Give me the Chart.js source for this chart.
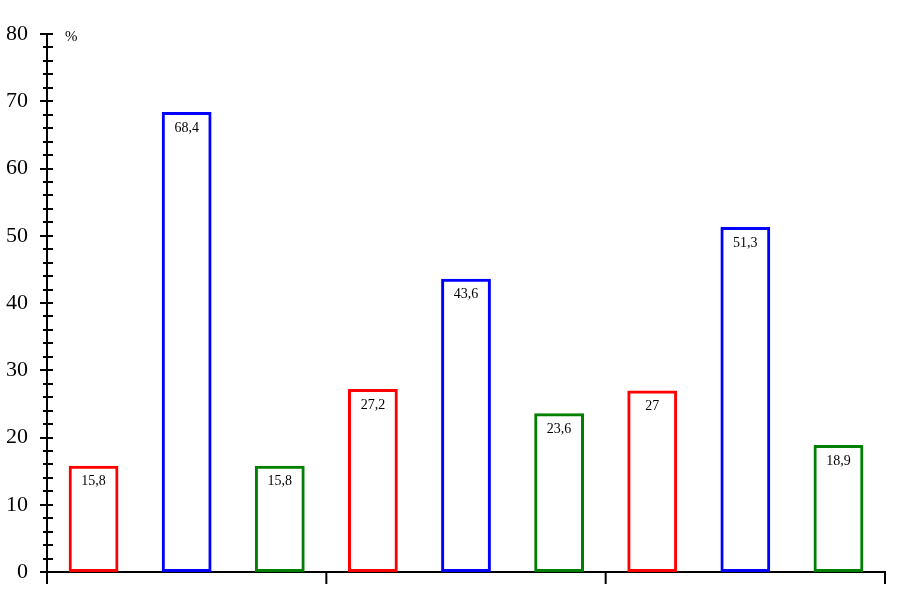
<!DOCTYPE html>
<html>
<head>
<meta charset="utf-8">
<script src="https://cdn.jsdelivr.net/npm/chart.js@4.4.1/dist/chart.umd.min.js"></script>
<style>
  html, body { margin: 0; padding: 0; background: #fff; }
  #wrap { width: 904px; height: 606px; }
</style>
</head>
<body>
<div id="wrap"><canvas id="chart"></canvas></div>
<script>
// three groups, three series each
const groups = ['1', '2', '3'];
const redValues = [15.8, 27.2, 27];
const blueValues = [68.4, 43.6, 51.3];
const greenValues = [15.8, 23.6, 18.9];
const seriesColors = ['#ff0000', '#0000ff', '#008000'];
const yTicks = [0, 10, 20, 30, 40, 50, 60, 70, 80];

const labels = [];
const values = [];
const colors = [];
groups.forEach((g, i) => {
    [redValues, blueValues, greenValues].forEach((s, j) => {
        labels.push(g + '-' + j);
        values.push(s[i]);
        colors.push(seriesColors[j]);
    });
});

const serif = '"Liberation Serif", "Times New Roman", serif';

const axisMarks = {
    id: 'axisMarks',
    afterDraw(chart) {
        const ctx = chart.ctx;
        const y = chart.scales.y;
        const x = chart.scales.x;
        const left = chart.chartArea.left;
        const bottom = chart.chartArea.bottom;
        ctx.save();
        ctx.strokeStyle = '#000';
        ctx.lineWidth = 2;
        // y ticks crossing the axis
        for (let v = 0; v <= 80; v += 2) {
            const py = Math.round(y.getPixelForValue(v));
            const major = v % 10 == 0;
            ctx.beginPath();
            ctx.moveTo(left - (major ? 7 : 4), py);
            ctx.lineTo(left + 6, py);
            ctx.stroke();
        }
        // x ticks at group boundaries
        for (let g = 0; g <= groups.length; g++) {
            let px;
            if (g == 0) px = left;
            else if (g == groups.length) px = chart.chartArea.right;
            else px = (x.getPixelForValue(g * 3 - 1) + x.getPixelForValue(g * 3)) / 2;
            ctx.beginPath();
            ctx.moveTo(px, bottom);
            ctx.lineTo(px, bottom + 12);
            ctx.stroke();
        }
        // tick labels
        ctx.fillStyle = '#000';
        ctx.font = '22px ' + serif;
        ctx.textAlign = 'right';
        ctx.textBaseline = 'middle';
        yTicks.forEach(v => {
            ctx.fillText(String(v), 28, y.getPixelForValue(v));
        });
        ctx.font = '15px ' + serif;
        ctx.textAlign = 'left';
        ctx.fillText('%', 65, y.getPixelForValue(80) + 3);
        // value labels inside bars
        ctx.font = '14px ' + serif;
        ctx.textAlign = 'center';
        const meta = chart.getDatasetMeta(0);
        meta.data.forEach((bar, i) => {
            ctx.fillText(String(values[i]).replace('.', ','), bar.x, bar.y + 16);
        });
        ctx.restore();
    }
};

new Chart(document.getElementById('chart'), {
    type: 'bar',
    data: {
        labels: labels,
        datasets: [{
            data: values,
            backgroundColor: 'rgba(0,0,0,0)',
            borderColor: colors,
            borderWidth: 3,
            borderSkipped: false,
            categoryPercentage: 1,
            barPercentage: 0.535
        }]
    },
    options: {
        responsive: true,
        maintainAspectRatio: false,
        animation: false,
        layout: { padding: { top: 34, right: 19, left: 0, bottom: 0 } },
        plugins: { legend: { display: false }, tooltip: { enabled: false } },
        scales: {
            x: {
                grid: { display: false },
                ticks: { display: false },
                border: { color: '#000', width: 2 },
                afterFit(s) { s.height = 34; }
            },
            y: {
                min: 0,
                max: 80,
                grid: { display: false },
                ticks: { display: false },
                border: { color: '#000', width: 2 },
                afterFit(s) { s.width = 47; }
            }
        }
    },
    plugins: [axisMarks]
});
</script>
</body>
</html>
